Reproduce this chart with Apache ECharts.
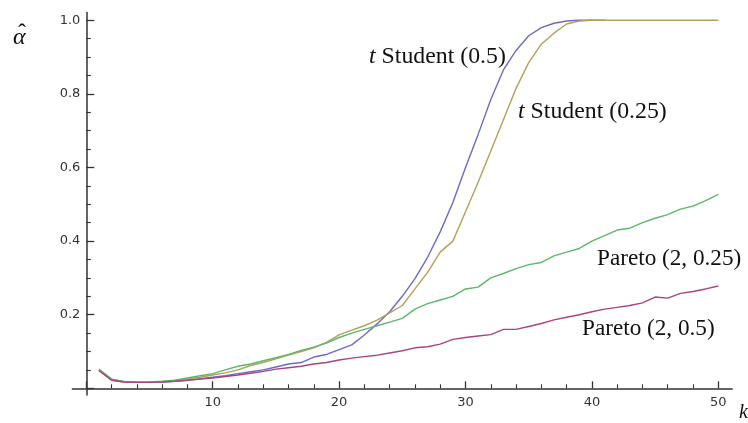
<!DOCTYPE html>
<html>
<head>
<meta charset="utf-8">
<script src="https://cdn.jsdelivr.net/npm/echarts@6/dist/echarts.min.js"></script>
<style>html,body{margin:0;padding:0;background:#fff;}#c{width:748px;height:423px;}</style>
</head>
<body>
<div id="c"></div>
<script>
var kValues = [1,2,3,4,5,6,7,8,9,10,11,12,13,14,15,16,17,18,19,20,21,22,23,24,25,26,27,28,29,30,31,32,33,34,35,36,37,38,39,40,41,42,43,44,45,46,47,48,49,50];
var tStudent05 = [0.050,0.025,0.018,0.016,0.016,0.017,0.019,0.022,0.026,0.030,0.034,0.040,0.045,0.050,0.058,0.066,0.070,0.085,0.092,0.105,0.118,0.145,0.175,0.208,0.250,0.298,0.356,0.425,0.505,0.600,0.690,0.785,0.865,0.918,0.958,0.980,0.992,0.998,1.000,1.000,1.000];
var tStudent025 = [0.050,0.022,0.017,0.016,0.016,0.018,0.021,0.026,0.030,0.036,0.042,0.050,0.062,0.070,0.080,0.090,0.100,0.110,0.125,0.145,0.158,0.170,0.185,0.205,0.225,0.270,0.315,0.370,0.400,0.480,0.560,0.645,0.730,0.815,0.885,0.935,0.965,0.990,0.998,1.000,1.000,1.000,1.000,1.000,1.000,1.000,1.000,1.000,1.000,1.000];
var pareto025 = [0.052,0.025,0.018,0.017,0.017,0.019,0.022,0.028,0.034,0.040,0.050,0.060,0.066,0.075,0.083,0.092,0.103,0.112,0.123,0.138,0.150,0.160,0.170,0.180,0.190,0.215,0.230,0.240,0.250,0.270,0.275,0.300,0.312,0.325,0.336,0.342,0.360,0.370,0.380,0.400,0.415,0.430,0.435,0.450,0.462,0.472,0.487,0.495,0.510,0.527];
var pareto05 = [0.048,0.022,0.017,0.016,0.016,0.017,0.019,0.022,0.025,0.028,0.032,0.036,0.041,0.046,0.052,0.056,0.060,0.066,0.070,0.077,0.082,0.086,0.090,0.096,0.102,0.110,0.113,0.120,0.133,0.138,0.142,0.146,0.160,0.160,0.168,0.176,0.186,0.193,0.200,0.208,0.215,0.220,0.225,0.232,0.248,0.245,0.258,0.263,0.270,0.278];
var xTickLabels = ['', '10', '20', '30', '40', '50'];
var yTickLabels = ['', '0.2', '0.4', '0.6', '0.8', '1.0'];
var seriesNames = ['t Student (0.5)','t Student (0.25)','Pareto (2, 0.25)','Pareto (2, 0.5)'];

function pairs(vals){ return vals.map(function(v,i){ return [kValues[i], v]; }); }

var chart = echarts.init(document.getElementById('c'), null, {renderer:'canvas'});
var axisColor = '#333';
var lblColor = '#333', lblFont = 'DejaVu Sans', lblSize = 13;
var option = {
  animation:false,
  backgroundColor:'#ffffff',
  grid:[
    {left:86.3, right:29.7, top:20.3, bottom:34.7},
    {left:72.4, right:15.8, top:12.6, bottom:28.1}
  ],
  xAxis:[
    {type:'value', gridIndex:0, min:0, max:50, interval:10, position:'bottom',
     axisLine:{show:false, onZero:false},
     axisTick:{show:true, inside:true, length:7, lineStyle:{color:axisColor, width:1.3}},
     minorTick:{show:true, splitNumber:5, length:4, lineStyle:{color:axisColor, width:1.1}},
     axisLabel:{show:true, margin:8, color:lblColor, fontFamily:lblFont, fontSize:lblSize,
       formatter:function(v){ return xTickLabels[Math.round(v/10)]; }},
     splitLine:{show:false}, minorSplitLine:{show:false}},
    {type:'value', gridIndex:1, min:-1.1, max:51.1, position:'bottom',
     axisLine:{show:true, onZero:true, lineStyle:{color:axisColor, width:1.5}},
     axisTick:{show:false}, axisLabel:{show:false}, splitLine:{show:false}}
  ],
  yAxis:[
    {type:'value', gridIndex:0, min:0, max:1, interval:0.2, position:'left',
     axisLine:{show:false, onZero:false},
     axisTick:{show:true, inside:true, length:8, lineStyle:{color:axisColor, width:1.3}},
     minorTick:{show:true, splitNumber:4, length:4.5, lineStyle:{color:axisColor, width:1.1}},
     axisLabel:{show:true, margin:6, color:lblColor, fontFamily:lblFont, fontSize:lblSize,
       formatter:function(v){ return yTickLabels[Math.round(v/0.2)]; }},
     splitLine:{show:false}, minorSplitLine:{show:false}},
    {type:'value', gridIndex:1, min:-0.018, max:1.021, position:'left',
     axisLine:{show:true, onZero:true, lineStyle:{color:axisColor, width:1.5}},
     axisTick:{show:false}, axisLabel:{show:false}, splitLine:{show:false}}
  ],
  series:[
    {name:seriesNames[0], type:'line', xAxisIndex:0, yAxisIndex:0, clip:false, data:pairs(tStudent05), showSymbol:false, lineStyle:{color:'#6b6bc6', width:1.4}, itemStyle:{color:'#6b6bc6'}},
    {name:seriesNames[1], type:'line', xAxisIndex:0, yAxisIndex:0, clip:false, data:pairs(tStudent025), showSymbol:false, lineStyle:{color:'#b3a15a', width:1.4}, itemStyle:{color:'#b3a15a'}},
    {name:seriesNames[2], type:'line', xAxisIndex:0, yAxisIndex:0, clip:false, data:pairs(pareto025), showSymbol:false, lineStyle:{color:'#5db76b', width:1.4}, itemStyle:{color:'#5db76b'}},
    {name:seriesNames[3], type:'line', xAxisIndex:0, yAxisIndex:0, clip:false, data:pairs(pareto05), showSymbol:false, lineStyle:{color:'#a8457f', width:1.4}, itemStyle:{color:'#a8457f'}}
  ],
  graphic:[
    {type:'text', left:369, top:45, style:{text:'{i|t} Student (0.5)', font:'23.8px "Liberation Serif"', fill:'#111',
      rich:{i:{fontStyle:'italic', fontFamily:'Liberation Serif', fontSize:23.8, fill:'#111'}}}},
    {type:'text', left:518, top:100, style:{text:'{i|t} Student (0.25)', font:'23.8px "Liberation Serif"', fill:'#111',
      rich:{i:{fontStyle:'italic', fontFamily:'Liberation Serif', fontSize:23.8, fill:'#111'}}}},
    {type:'text', left:597, top:247.5, style:{text:'Pareto (2, 0.25)', font:'23.2px "Liberation Serif"', fill:'#111'}},
    {type:'text', left:582, top:317.5, style:{text:'Pareto (2, 0.5)', font:'23.2px "Liberation Serif"', fill:'#111'}},
    {type:'text', left:13, top:26, style:{text:'\u03B1', font:'italic 24px "Liberation Serif"', fill:'#111'}},
    {type:'text', left:18, top:22, style:{text:'\u02C6', font:'24px "Liberation Serif"', fill:'#111'}},
    {type:'text', left:739, top:403, style:{text:'k', font:'italic 20px "Liberation Serif"', fill:'#111'}}
  ]
};
chart.setOption(option);
</script>
</body>
</html>
